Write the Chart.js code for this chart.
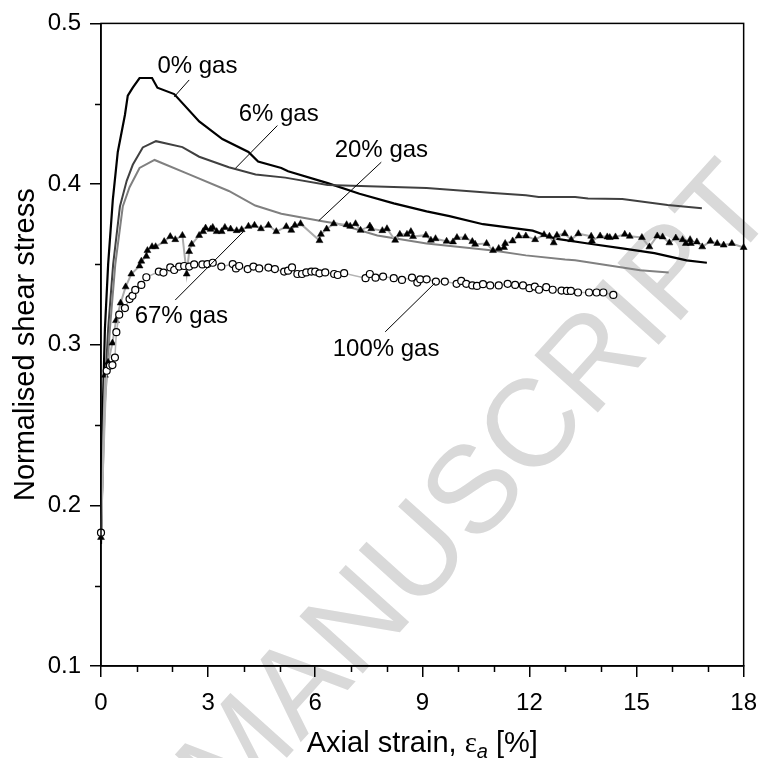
<!DOCTYPE html>
<html>
<head>
<meta charset="utf-8">
<title>Normalised shear stress vs axial strain</title>
<script src="https://cdn.jsdelivr.net/npm/chart.js@4.4.1/dist/chart.umd.min.js"></script>
<style>
    html, body { margin: 0; padding: 0; background: #fff; }
    #wrap { width: 769px; height: 758px; }
</style>
</head>
<body>
<div id="wrap"><canvas id="shearChart" width="769" height="758"></canvas></div>
<script>
// Data (axial strain in %, normalised shear stress)
const gas0X = [0, 0.05, 0.11, 0.2, 0.33, 0.47, 0.67, 0.75, 0.89, 1.08, 1.43, 1.58, 2.05, 2.75, 3.4, 4.13, 4.4, 5.05, 5.24, 6.35, 7.24, 8.2, 9.12, 9.76, 10.7, 12.09, 12.73, 13.64, 14.6, 15.5, 16.4, 16.97];
const gas0Y = [0.176, 0.26, 0.31, 0.35, 0.39, 0.42, 0.443, 0.455, 0.46, 0.466, 0.466, 0.46, 0.456, 0.439, 0.428, 0.42, 0.414, 0.41, 0.408, 0.4006, 0.394, 0.388, 0.383, 0.38, 0.375, 0.371, 0.366, 0.363, 0.36, 0.357, 0.3525, 0.351];

const gas6X = [0, 0.08, 0.2, 0.34, 0.53, 0.72, 0.89, 1.17, 1.54, 2.28, 2.75, 3.58, 4.33, 5.16, 6.35, 7.27, 9.12, 10.98, 11.9, 12.26, 13.28, 13.64, 14.6, 15.5, 15.87, 16.83];
const gas6Y = [0.178, 0.26, 0.31, 0.35, 0.386, 0.402, 0.412, 0.4228, 0.4267, 0.423, 0.417, 0.4105, 0.406, 0.404, 0.3994, 0.3988, 0.3975, 0.3944, 0.393, 0.392, 0.392, 0.391, 0.3907, 0.388, 0.387, 0.385];

const gas20X = [0, 0.1, 0.25, 0.4, 0.61, 0.8, 1.08, 1.5, 2.47, 3.58, 4.32, 5.05, 6.16, 6.63, 7.74, 9.12, 10.98, 11.9, 13.0, 13.28, 14.6, 15.1, 15.9];
const gas20Y = [0.18, 0.26, 0.31, 0.35, 0.386, 0.398, 0.41, 0.415, 0.406, 0.3957, 0.3866, 0.3815, 0.377, 0.3753, 0.368, 0.363, 0.3586, 0.3556, 0.353, 0.3525, 0.348, 0.3463, 0.345];

const gas67X = [0, 0.11, 0.2, 0.32, 0.42, 0.55, 0.69, 0.85, 1.08, 1.13, 1.27, 1.3, 1.43, 1.53, 1.77, 1.94, 2.08, 2.28, 2.4, 2.47, 2.54, 2.75, 2.86, 2.93, 3.07, 3.13, 3.24, 3.38, 3.47, 3.63, 3.8, 3.94, 4.13, 4.3, 4.48, 4.69, 4.91, 5.19, 5.33, 5.43, 5.59, 6.12, 6.16, 6.32, 6.52, 6.88, 6.98, 7.13, 7.27, 7.53, 7.57, 7.88, 8.01, 8.24, 8.37, 8.57, 8.68, 8.74, 9.1, 9.24, 9.37, 9.68, 9.86, 9.97, 10.2, 10.4, 10.48, 10.8, 10.98, 11.14, 11.29, 11.32, 11.53, 11.7, 11.9, 12.16, 12.41, 12.56, 12.68, 12.77, 12.99, 13.17, 13.37, 13.73, 13.75, 13.98, 14.18, 14.25, 14.41, 14.67, 14.81, 15.15, 15.36, 15.58, 15.73, 15.92, 16.1, 16.29, 16.38, 16.5, 16.52, 16.69, 16.84, 17.07, 17.26, 17.44, 17.67, 18.0];
const gas67Y = [0.18, 0.281, 0.289, 0.301, 0.315, 0.326, 0.336, 0.344, 0.349, 0.352, 0.355, 0.3586, 0.361, 0.361, 0.3642, 0.3673, 0.3654, 0.368, 0.344, 0.358, 0.3625, 0.368, 0.3704, 0.3726, 0.3718, 0.373, 0.3704, 0.3704, 0.373, 0.372, 0.371, 0.3716, 0.3737, 0.3743, 0.3722, 0.3743, 0.3704, 0.3735, 0.3712, 0.3743, 0.3753, 0.3648, 0.3687, 0.372, 0.3753, 0.3747, 0.3737, 0.3753, 0.3712, 0.3739, 0.3722, 0.371, 0.3722, 0.365, 0.3687, 0.3687, 0.3704, 0.3673, 0.3682, 0.365, 0.366, 0.3644, 0.364, 0.3667, 0.3667, 0.3642, 0.3625, 0.363, 0.3586, 0.3599, 0.3605, 0.363, 0.3646, 0.3677, 0.3677, 0.3654, 0.3685, 0.3675, 0.3634, 0.3681, 0.3691, 0.3654, 0.3691, 0.3675, 0.3646, 0.3677, 0.3671, 0.3667, 0.3671, 0.3687, 0.3675, 0.3667, 0.3609, 0.3677, 0.3671, 0.3634, 0.3664, 0.3654, 0.363, 0.3654, 0.363, 0.364, 0.3609, 0.3644, 0.363, 0.362, 0.363, 0.3605];

const gas100X = [0, 0.16, 0.25, 0.32, 0.39, 0.43, 0.51, 0.67, 0.8, 0.88, 0.96, 1.13, 1.27, 1.62, 1.75, 1.94, 2.05, 2.19, 2.33, 2.47, 2.61, 2.84, 2.98, 3.13, 3.37, 3.69, 3.78, 3.87, 4.11, 4.27, 4.43, 4.69, 4.87, 5.13, 5.24, 5.35, 5.5, 5.63, 5.75, 5.89, 6.0, 6.12, 6.28, 6.53, 6.63, 6.81, 7.41, 7.53, 7.69, 7.9, 8.2, 8.43, 8.71, 8.86, 8.94, 9.12, 9.38, 9.63, 9.96, 10.09, 10.23, 10.4, 10.53, 10.7, 10.9, 11.14, 11.39, 11.6, 11.82, 12.0, 12.15, 12.27, 12.47, 12.65, 12.9, 13.05, 13.16, 13.36, 13.67, 13.88, 14.07, 14.35];
const gas100Y = [0.183, 0.2838, 0.287, 0.2873, 0.292, 0.3078, 0.3187, 0.3228, 0.3284, 0.3304, 0.3341, 0.3372, 0.342, 0.3455, 0.3449, 0.3481, 0.3465, 0.3486, 0.349, 0.3486, 0.35, 0.35, 0.3502, 0.351, 0.3486, 0.3502, 0.3475, 0.349, 0.3471, 0.3486, 0.3475, 0.348, 0.3471, 0.3455, 0.3461, 0.3481, 0.344, 0.344, 0.345, 0.3455, 0.3455, 0.3444, 0.345, 0.344, 0.3434, 0.3445, 0.3414, 0.344, 0.3417, 0.3424, 0.3414, 0.3403, 0.3418, 0.3387, 0.3407, 0.3407, 0.3393, 0.3393, 0.3379, 0.3397, 0.3379, 0.3369, 0.3366, 0.3377, 0.3369, 0.3369, 0.3379, 0.3372, 0.3369, 0.3352, 0.3362, 0.3342, 0.3358, 0.3342, 0.3337, 0.3335, 0.3335, 0.3325, 0.3325, 0.3325, 0.3325, 0.331];

// Curve labels: text, text anchor (strain, stress) and leader line ends
const labelTexts = ['0% gas', '6% gas', '20% gas', '67% gas', '100% gas'];
const labelAt = [[1.58, 0.4691], [3.855, 0.4395], [6.545, 0.4167], [0.943, 0.3136], [6.49, 0.2932]];
const leaderFrom = [[2.47, 0.4648], [4.94, 0.4364], [7.85, 0.4136], [2.08, 0.3278], [7.96, 0.308]];
const leaderTo = [[2.05, 0.4543], [3.77, 0.4099], [6.1, 0.3772], [3.99, 0.3704], [9.35, 0.3383]];

const minorX = [1, 2, 4, 5, 7, 8, 10, 11, 13, 14, 16, 17];
const minorY = [0.15, 0.25, 0.35, 0.45];

const FONT = "'Liberation Sans', Arial, sans-serif";

function toPoints(xs, ys) {
    return xs.map(function(v, i) { return { x: v, y: ys[i] }; });
}

// Frame, minor ticks, curve labels, x title and watermark
const decorPlugin = {
    id: 'decor',
    beforeDraw: function(chart) {
        const ctx = chart.ctx;
        ctx.save();
        ctx.translate(780, 210);
        ctx.rotate(-48 * Math.PI / 180);
        ctx.fillStyle = '#d9d9d9';
        ctx.font = '124px ' + FONT;
        ctx.textAlign = 'right';
        ctx.textBaseline = 'alphabetic';
        ctx.fillText('ACCEPTED MANUSCRIPT', 0, 0);
        ctx.restore();
    },
    afterDraw: function(chart) {
        const ctx = chart.ctx;
        const a = chart.chartArea;
        const xs = chart.scales.x;
        const ys = chart.scales.y;
        ctx.save();
        ctx.strokeStyle = '#000';
        ctx.lineWidth = 1.5;
        ctx.strokeRect(a.left, a.top, a.right - a.left, a.bottom - a.top);

        ctx.beginPath();
        minorX.forEach(function(v) {
            const px = Math.round(xs.getPixelForValue(v)) + 0.5;
            ctx.moveTo(px, a.bottom);
            ctx.lineTo(px, a.bottom + 6);
        });
        minorY.forEach(function(v) {
            const py = Math.round(ys.getPixelForValue(v)) + 0.5;
            ctx.moveTo(a.left, py);
            ctx.lineTo(a.left - 6, py);
        });
        ctx.stroke();

        // leader lines and labels
        ctx.lineWidth = 1;
        ctx.beginPath();
        leaderFrom.forEach(function(p, i) {
            ctx.moveTo(xs.getPixelForValue(p[0]), ys.getPixelForValue(p[1]));
            ctx.lineTo(xs.getPixelForValue(leaderTo[i][0]), ys.getPixelForValue(leaderTo[i][1]));
        });
        ctx.stroke();

        ctx.fillStyle = '#000';
        ctx.font = '24px ' + FONT;
        ctx.textAlign = 'left';
        ctx.textBaseline = 'alphabetic';
        labelTexts.forEach(function(t, i) {
            ctx.fillText(t, xs.getPixelForValue(labelAt[i][0]), ys.getPixelForValue(labelAt[i][1]));
        });

        // x axis title with subscript
        const part1 = 'Axial strain, ';
        const eps = '\u03b5';
        const sub = 'a';
        const part2 = ' [%]';
        const f1 = '29px ' + FONT;
        const fe = '29px \'Liberation Serif\', serif';
        const fs = 'italic 20px ' + FONT;
        ctx.font = f1; const w1 = ctx.measureText(part1).width; const w2 = ctx.measureText(part2).width;
        ctx.font = fe; const we = ctx.measureText(eps).width;
        ctx.font = fs; const ws = ctx.measureText(sub).width;
        const total = w1 + we + ws + w2;
        let cx = (a.left + a.right) / 2 - total / 2;
        const base = 752;
        ctx.font = f1; ctx.fillText(part1, cx, base); cx += w1;
        ctx.font = fe; ctx.fillText(eps, cx, base); cx += we;
        ctx.font = fs; ctx.fillText(sub, cx, base + 6); cx += ws;
        ctx.font = f1; ctx.fillText(part2, cx, base);
        ctx.restore();
    }
};

const ctx = document.getElementById('shearChart').getContext('2d');
const shearChart = new Chart(ctx, {
    type: 'scatter',
    data: {
        datasets: [
            {
                label: '100% gas',
                data: toPoints(gas100X, gas100Y),
                showLine: true,
                borderColor: '#b4b4b4',
                borderWidth: 1.5,
                pointStyle: 'circle',
                pointRadius: 3.5,
                pointBorderWidth: 1.2,
                pointBorderColor: '#000',
                pointBackgroundColor: '#fff',
                clip: false
            },
            {
                label: '67% gas',
                data: toPoints(gas67X, gas67Y),
                showLine: true,
                borderColor: '#ababab',
                borderWidth: 2,
                pointStyle: 'triangle',
                pointRadius: 4,
                pointBorderWidth: 0.5,
                pointBorderColor: '#000',
                pointBackgroundColor: '#000',
                clip: false
            },
            {
                label: '20% gas',
                data: toPoints(gas20X, gas20Y),
                showLine: true,
                borderColor: '#808080',
                borderWidth: 2,
                pointRadius: 0
            },
            {
                label: '6% gas',
                data: toPoints(gas6X, gas6Y),
                showLine: true,
                borderColor: '#404040',
                borderWidth: 2,
                pointRadius: 0
            },
            {
                label: '0% gas',
                data: toPoints(gas0X, gas0Y),
                showLine: true,
                borderColor: '#000',
                borderWidth: 2.2,
                pointRadius: 0
            }
        ]
    },
    options: {
        responsive: false,
        animation: false,
        devicePixelRatio: 1,
        layout: { padding: { top: 18, right: 19, left: 0, bottom: 0 } },
        plugins: {
            legend: { display: false },
            tooltip: { enabled: false }
        },
        scales: {
            x: {
                type: 'linear',
                min: 0,
                max: 18,
                ticks: { stepSize: 3, padding: 12, color: '#000', maxRotation: 0, font: { family: FONT, size: 24 } },
                grid: { drawOnChartArea: false, drawTicks: true, tickLength: 11, color: '#000', lineWidth: 1.5 },
                border: { color: '#000', width: 1.5 },
                afterFit: function(scale) { scale.height = 92; }
            },
            y: {
                min: 0.1,
                max: 0.5,
                ticks: {
                    stepSize: 0.1, padding: 9, color: '#000', font: { family: FONT, size: 24 },
                    callback: function(v) { return v.toFixed(1); }
                },
                grid: { drawOnChartArea: false, drawTicks: true, tickLength: 11, color: '#000', lineWidth: 1.5 },
                border: { color: '#000', width: 1.5 },
                title: {
                    display: true,
                    text: 'Normalised shear stress',
                    color: '#000',
                    font: { family: FONT, size: 29 },
                    padding: { top: 9, bottom: 0 }
                },
                afterFit: function(scale) { scale.width = 101; }
            }
        }
    },
    plugins: [decorPlugin]
});
</script>
</body>
</html>
